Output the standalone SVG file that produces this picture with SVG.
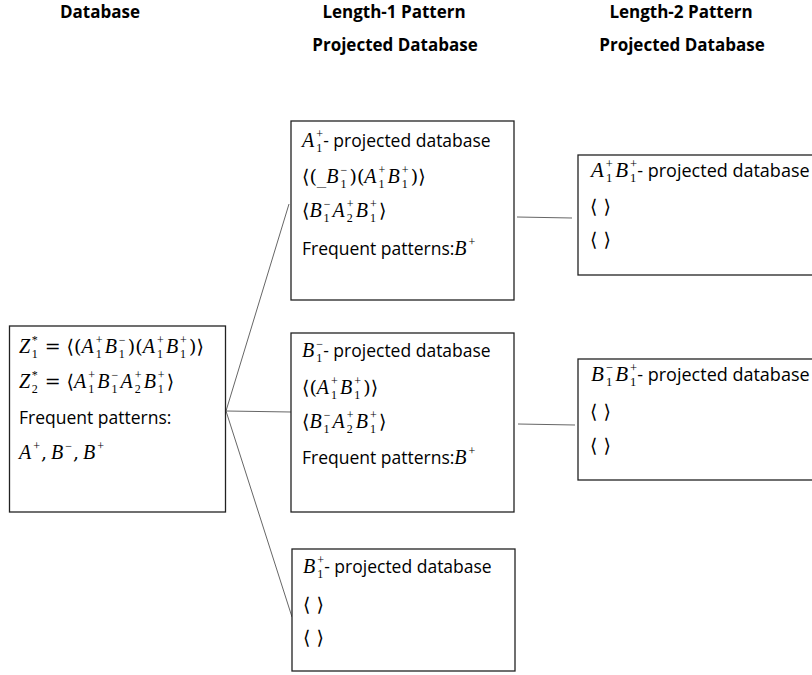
<svg xmlns="http://www.w3.org/2000/svg" width="812" height="675" viewBox="0 0 812 675">
  <style>
    .bg { fill: #ffffff; }
    .box { fill: #ffffff; stroke: #222222; stroke-width: 1.3; }
    .edge { stroke: #666666; stroke-width: 1; fill: none; }
    .head { font-family: "Open Sans", "Liberation Sans", sans-serif; font-weight: bold; font-size: 17px; fill: #000000; text-anchor: middle; }
    .t { font-family: "Open Sans", "Liberation Sans", sans-serif; font-size: 17.5px; fill: #000000; }
    .m { font-family: "Liberation Serif", "DejaVu Serif", serif; font-size: 20px; fill: #000000; }
    .m2 { font-family: "Liberation Serif", "DejaVu Serif", serif; font-size: 21px; fill: #000000; }
    .i { font-style: italic; }
    .s { font-size: 12px; font-style: normal; }
    .u { font-family: "DejaVu Serif", "Liberation Serif", serif; font-style: normal; font-size: 19px; }
    .tx { font-family: "Open Sans", "Liberation Sans", sans-serif; font-size: 17.5px; font-style: normal; }
    .m2 .s { font-size: 12.5px; }
    .m2 .tx { font-size: 18px; }
  </style>

  <rect class="bg" x="0" y="0" width="812" height="675"/>

  <!-- column headings -->
  <g id="headings">
    <text class="head" x="100" y="18">Database</text>
    <text class="head" x="394" y="18">Length-1 Pattern</text>
    <text class="head" x="395" y="51">Projected Database</text>
    <text class="head" x="681" y="18">Length-2 Pattern</text>
    <text class="head" x="682" y="51">Projected Database</text>
  </g>

  <!-- connectors -->
  <g id="connectors">
    <line class="edge" x1="226" y1="411" x2="289" y2="204"/>
    <line class="edge" x1="226" y1="411" x2="291" y2="412"/>
    <line class="edge" x1="226" y1="411" x2="292" y2="617"/>
    <line class="edge" x1="517" y1="217" x2="572" y2="218"/>
    <line class="edge" x1="518" y1="424" x2="575" y2="425"/>
  </g>

  <!-- sequence database -->
  <g id="database">
    <rect class="box" x="9.5" y="326" width="216" height="186"/>
    <text class="m" x="19" y="353"><tspan class="i">Z</tspan><tspan class="s" dx="1.5" dy="-9">*</tspan><tspan class="s" dx="-6" dy="14">1</tspan><tspan class="u" dx="1" dy="-5"> = ⟨(</tspan><tspan class="i">A</tspan><tspan class="s" dx="2" dy="-9">+</tspan><tspan class="s" dx="-6.8" dy="14">1</tspan><tspan class="i" dx="3" dy="-5">B</tspan><tspan class="s" dx="2" dy="-9">−</tspan><tspan class="s" dx="-6.8" dy="14">1</tspan><tspan class="u" dx="3" dy="-5">)(</tspan><tspan class="i">A</tspan><tspan class="s" dx="2" dy="-9">+</tspan><tspan class="s" dx="-6.8" dy="14">1</tspan><tspan class="i" dx="3" dy="-5">B</tspan><tspan class="s" dx="2" dy="-9">+</tspan><tspan class="s" dx="-6.8" dy="14">1</tspan><tspan class="u" dx="3" dy="-5">)⟩</tspan></text>
    <text class="m" x="19" y="388"><tspan class="i">Z</tspan><tspan class="s" dx="1.5" dy="-9">*</tspan><tspan class="s" dx="-6" dy="14">2</tspan><tspan class="u" dx="1" dy="-5"> = ⟨</tspan><tspan class="i">A</tspan><tspan class="s" dx="2" dy="-9">+</tspan><tspan class="s" dx="-6.8" dy="14">1</tspan><tspan class="i" dx="3" dy="-5">B</tspan><tspan class="s" dx="2" dy="-9">−</tspan><tspan class="s" dx="-6.8" dy="14">1</tspan><tspan class="i" dx="3" dy="-5">A</tspan><tspan class="s" dx="2" dy="-9">+</tspan><tspan class="s" dx="-6.8" dy="14">2</tspan><tspan class="i" dx="3" dy="-5">B</tspan><tspan class="s" dx="2" dy="-9">+</tspan><tspan class="s" dx="-6.8" dy="14">1</tspan><tspan class="u" dx="3" dy="-5">⟩</tspan></text>
    <text class="t" x="19" y="424">Frequent patterns:</text>
    <text class="m" x="19" y="459"><tspan class="i">A</tspan><tspan class="s" dx="2" dy="-9">+</tspan><tspan class="u" dx="1" dy="9">,</tspan><tspan class="i" dx="4">B</tspan><tspan class="s" dx="2" dy="-9">−</tspan><tspan class="u" dx="1" dy="9">,</tspan><tspan class="i" dx="4">B</tspan><tspan class="s" dx="2" dy="-9">+</tspan></text>
  </g>

  <!-- A1+ projected database -->
  <g id="proj-a1p">
    <rect class="box" x="291" y="121" width="223" height="179"/>
    <text class="m" x="302" y="147"><tspan class="i">A</tspan><tspan class="s" dx="2" dy="-9">+</tspan><tspan class="s" dx="-6.8" dy="14">1</tspan><tspan class="tx" dx="1" dy="-5">- projected database</tspan></text>
    <text class="m" x="302" y="183"><tspan class="u">⟨(_</tspan><tspan class="i">B</tspan><tspan class="s" dx="2" dy="-9">−</tspan><tspan class="s" dx="-6.8" dy="14">1</tspan><tspan class="u" dx="3" dy="-5">)(</tspan><tspan class="i">A</tspan><tspan class="s" dx="2" dy="-9">+</tspan><tspan class="s" dx="-6.8" dy="14">1</tspan><tspan class="i" dx="3" dy="-5">B</tspan><tspan class="s" dx="2" dy="-9">+</tspan><tspan class="s" dx="-6.8" dy="14">1</tspan><tspan class="u" dx="3" dy="-5">)⟩</tspan></text>
    <text class="m" x="302" y="217"><tspan class="u">⟨</tspan><tspan class="i">B</tspan><tspan class="s" dx="2" dy="-9">−</tspan><tspan class="s" dx="-6.8" dy="14">1</tspan><tspan class="i" dx="3" dy="-5">A</tspan><tspan class="s" dx="2" dy="-9">+</tspan><tspan class="s" dx="-6.8" dy="14">2</tspan><tspan class="i" dx="3" dy="-5">B</tspan><tspan class="s" dx="2" dy="-9">+</tspan><tspan class="s" dx="-6.8" dy="14">1</tspan><tspan class="u" dx="3" dy="-5">⟩</tspan></text>
    <text class="m" x="302" y="255"><tspan class="tx">Frequent patterns:</tspan><tspan class="i">B</tspan><tspan class="s" dx="2" dy="-9">+</tspan></text>
  </g>

  <!-- B1- projected database -->
  <g id="proj-b1m">
    <rect class="box" x="291" y="333" width="223" height="179"/>
    <text class="m" x="302" y="357"><tspan class="i">B</tspan><tspan class="s" dx="2" dy="-9">−</tspan><tspan class="s" dx="-6.8" dy="14">1</tspan><tspan class="tx" dx="1" dy="-5">- projected database</tspan></text>
    <text class="m" x="302" y="394"><tspan class="u">⟨(</tspan><tspan class="i">A</tspan><tspan class="s" dx="2" dy="-9">+</tspan><tspan class="s" dx="-6.8" dy="14">1</tspan><tspan class="i" dx="3" dy="-5">B</tspan><tspan class="s" dx="2" dy="-9">+</tspan><tspan class="s" dx="-6.8" dy="14">1</tspan><tspan class="u" dx="3" dy="-5">)⟩</tspan></text>
    <text class="m" x="302" y="428"><tspan class="u">⟨</tspan><tspan class="i">B</tspan><tspan class="s" dx="2" dy="-9">−</tspan><tspan class="s" dx="-6.8" dy="14">1</tspan><tspan class="i" dx="3" dy="-5">A</tspan><tspan class="s" dx="2" dy="-9">+</tspan><tspan class="s" dx="-6.8" dy="14">2</tspan><tspan class="i" dx="3" dy="-5">B</tspan><tspan class="s" dx="2" dy="-9">+</tspan><tspan class="s" dx="-6.8" dy="14">1</tspan><tspan class="u" dx="3" dy="-5">⟩</tspan></text>
    <text class="m" x="302" y="464"><tspan class="tx">Frequent patterns:</tspan><tspan class="i">B</tspan><tspan class="s" dx="2" dy="-9">+</tspan></text>
  </g>

  <!-- B1+ projected database -->
  <g id="proj-b1p">
    <rect class="box" x="292" y="549" width="223" height="122"/>
    <text class="m" x="303" y="573"><tspan class="i">B</tspan><tspan class="s" dx="2" dy="-9">+</tspan><tspan class="s" dx="-6.8" dy="14">1</tspan><tspan class="tx" dx="1" dy="-5">- projected database</tspan></text>
    <text class="m u" x="303" y="611">⟨ ⟩</text>
    <text class="m u" x="303" y="644">⟨ ⟩</text>
  </g>

  <!-- A1+B1+ projected database -->
  <g id="proj-a1p-b1p">
    <rect class="box" x="578" y="155" width="250" height="120"/>
    <text class="m2" x="591" y="177"><tspan class="i">A</tspan><tspan class="s" dx="2" dy="-9.5">+</tspan><tspan class="s" dx="-7" dy="14.5">1</tspan><tspan class="i" dx="3" dy="-5">B</tspan><tspan class="s" dx="2" dy="-9.5">+</tspan><tspan class="s" dx="-7" dy="14.5">1</tspan><tspan class="tx" dx="1" dy="-5">- projected database</tspan></text>
    <text class="m u" x="590" y="213">⟨ ⟩</text>
    <text class="m u" x="590" y="246">⟨ ⟩</text>
  </g>

  <!-- B1-B1+ projected database -->
  <g id="proj-b1m-b1p">
    <rect class="box" x="578" y="359" width="250" height="121"/>
    <text class="m2" x="591" y="381"><tspan class="i">B</tspan><tspan class="s" dx="2" dy="-9.5">−</tspan><tspan class="s" dx="-7" dy="14.5">1</tspan><tspan class="i" dx="3" dy="-5">B</tspan><tspan class="s" dx="2" dy="-9.5">+</tspan><tspan class="s" dx="-7" dy="14.5">1</tspan><tspan class="tx" dx="1" dy="-5">- projected database</tspan></text>
    <text class="m u" x="590" y="418">⟨ ⟩</text>
    <text class="m u" x="590" y="452">⟨ ⟩</text>
  </g>
</svg>
